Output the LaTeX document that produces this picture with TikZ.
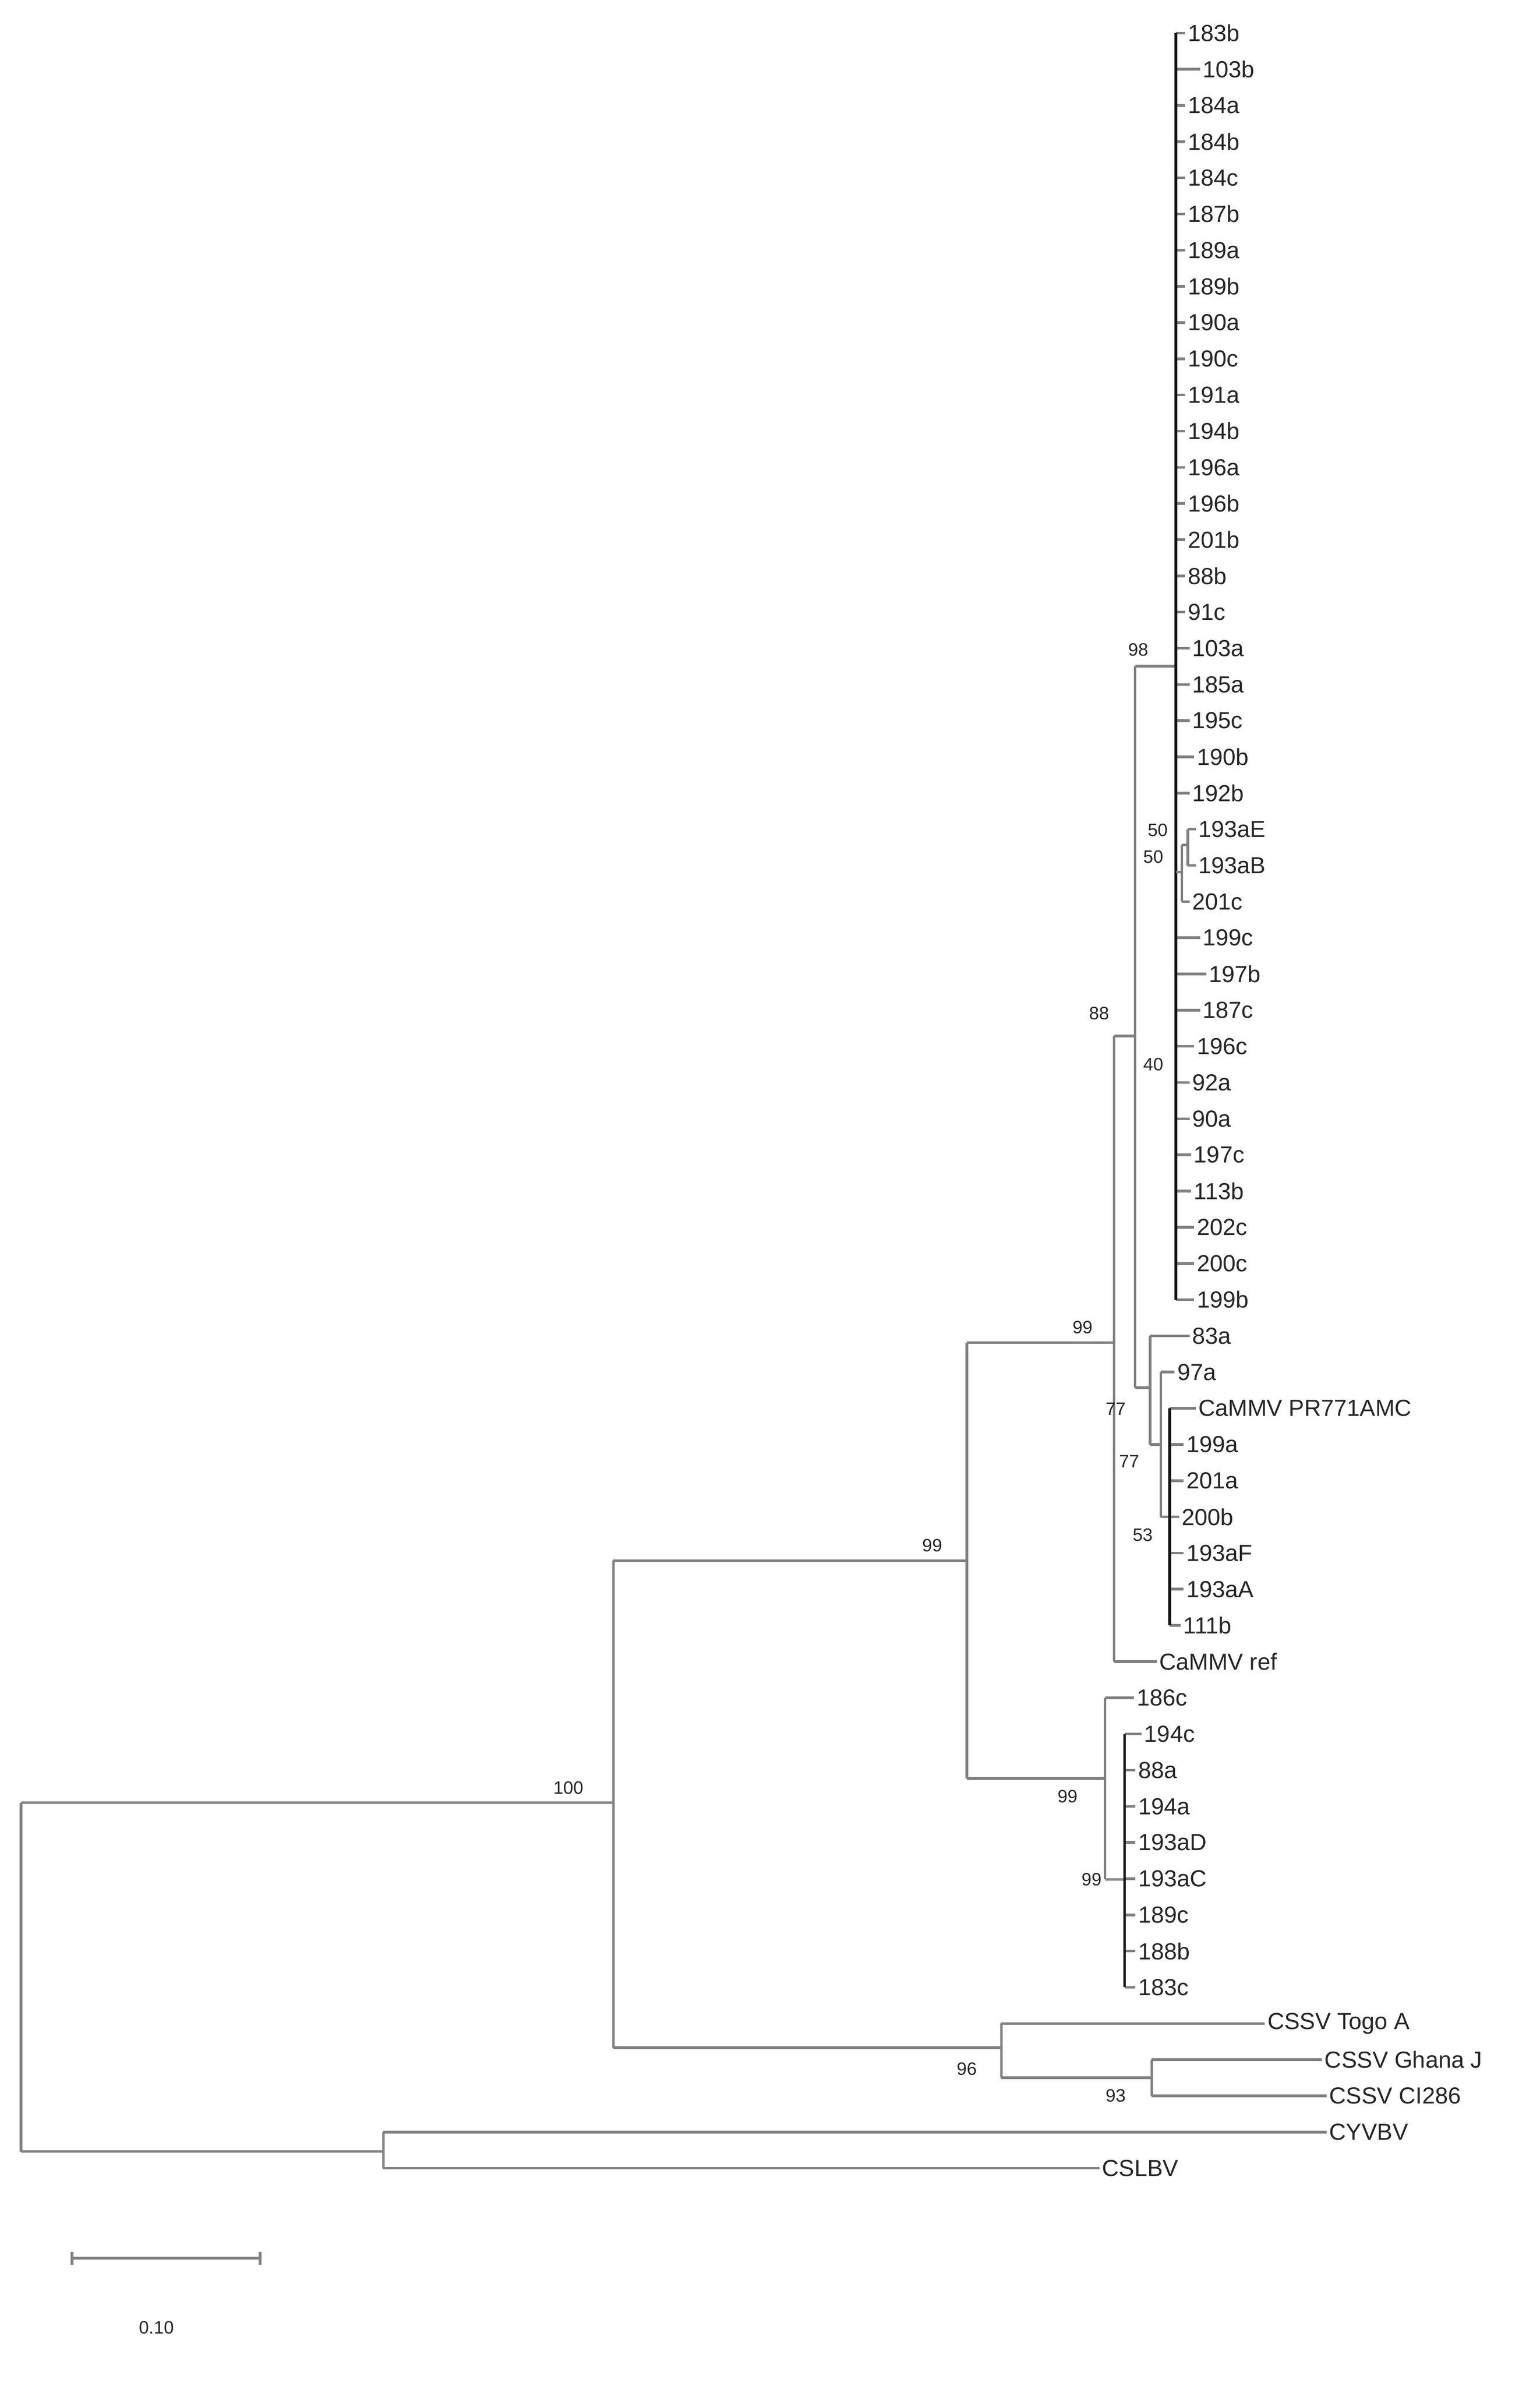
\documentclass[tikz,border=0pt]{standalone}
\usepackage{fontspec}
\setmainfont{Liberation Sans}
\begin{document}
\begin{tikzpicture}[x=0.1cm,y=-0.1cm,
  br/.style={draw=black!50,line width=5pt},
  brk/.style={draw=black!92,line width=5pt},
  leaf/.style={anchor=west,inner sep=0pt,text=black!85,font=\fontsize{44}{50}\selectfont},
  boot/.style={inner sep=0pt,text=black!85,font=\fontsize{34}{40}\selectfont}]
\useasboundingbox (0,0) rectangle (1024,1587);
\def\Y#1{22+24.07*#1}
\foreach \i/\t/\lx/\px in {0/183b/790/782,1/103b/800/782,2/184a/790/782,3/184b/790/782,4/184c/790/782,5/187b/790/782,6/189a/790/782,7/189b/790/782,8/190a/790/782,9/190c/790/782,10/191a/790/782,11/194b/790/782,12/196a/790/782,13/196b/790/782,14/201b/790/782,15/88b/790/782,16/91c/790/782,17/103a/793/782,18/185a/793/782,19/195c/793/782,20/190b/796/782,21/192b/793/782,22/193aE/797/790,23/193aB/797/790,24/201c/793/786,25/199c/800/782,26/197b/804/782,27/187c/800/782,28/196c/796/782,29/92a/793/782,30/90a/793/782,31/197c/794/782,32/113b/794/782,33/202c/796/782,34/200c/796/782,35/199b/796/782,
36/83a/793/765,37/97a/783/772,38/CaMMV PR771AMC/797/778,39/199a/789/778,40/201a/789/778,41/200b/786/778,42/193aF/789/778,43/193aA/789/778,44/111b/787/778,45/CaMMV ref/771/741,
46/186c/756/735,47/194c/761/748,48/88a/757/748,49/194a/757/748,50/193aD/757/748,51/193aC/757/748,52/189c/757/748,53/188b/757/748,54/183c/757/748,
55/CSSV Togo A/843/666,56/CSSV Ghana J/881/766,57/CSSV CI286/884/766,58/CYVBV/884/255,59/CSLBV/733/255}{
  \node[leaf] (l\i) at (\lx,{\Y{\i}}) {\t};
  \draw[br] (\px,{\Y{\i}}) -- ([xshift=-5pt]l\i.west);
}
\draw[br] (14,1199) -- (14,1431);
\draw[br] (14,1199) -- (408,1199); \draw[br] (14,1431) -- (255,1431);
\draw[br] (255,{\Y{58}}) -- (255,{\Y{59}});
\draw[br] (408,1038) -- (408,1362);
\draw[br] (408,1038) -- (643,1038); \draw[br] (408,1362) -- (666,1362);
\draw[br] (666,{\Y{55}}) -- (666,1382); \draw[br] (666,1382) -- (766,1382);
\draw[br] (766,{\Y{56}}) -- (766,{\Y{57}});
\draw[br] (643,893) -- (643,1183);
\draw[br] (643,893) -- (741,893); \draw[br] (643,1183) -- (735,1183);
\draw[br] (735,{\Y{46}}) -- (735,1250); \draw[br] (735,1250) -- (748,1250);
\draw[brk] (748,{\Y{47}}) -- (748,{\Y{54}});
\draw[br] (741,689) -- (741,{\Y{45}});
\draw[br] (741,689) -- (755,689);
\draw[br] (755,443) -- (755,923);
\draw[br] (755,443) -- (782,443);
\draw[br] (755,923) -- (765,923);
\draw[br] (765,{\Y{36}}) -- (765,{\Y{39}}); \draw[br] (765,{\Y{39}}) -- (772,{\Y{39}});
\draw[br] (772,{\Y{37}}) -- (772,{\Y{41}}); \draw[br] (772,{\Y{41}}) -- (778,{\Y{41}});
\draw[brk] (778,{\Y{38}}) -- (778,{\Y{44}});
\draw[brk] (782,{\Y{0}}) -- (782,{\Y{35}});
\draw[br] (790,{\Y{22}}) -- (790,{\Y{23}}); \draw[br] (786,562) -- (790,562);
\draw[br] (786,562) -- (786,{\Y{24}}); \draw[br] (782,580) -- (786,580);
\foreach \x/\y/\v in {757/432/98,731/674/88,720/883/99,620/1028/99,378/1189/100,710/1195/99,726/1250/99,643/1376/96,742/1394/93,770/552/50,767/570/50,767/708/40,742/937/77,751/972/77,760/1021/53}
  \node[boot] (b\x\y) at (\x,\y) {\v};
\coordinate (s1) at (48,1502); \coordinate (s2) at (173,1502);
\draw[br] (s1) -- (s2);
\draw[br] ([yshift=-12pt]s1) -- ([yshift=12pt]s1);
\draw[br] ([yshift=-12pt]s2) -- ([yshift=12pt]s2);
\node[boot] (sl) at (104,1548) {0.10};
\end{tikzpicture}
\end{document}
